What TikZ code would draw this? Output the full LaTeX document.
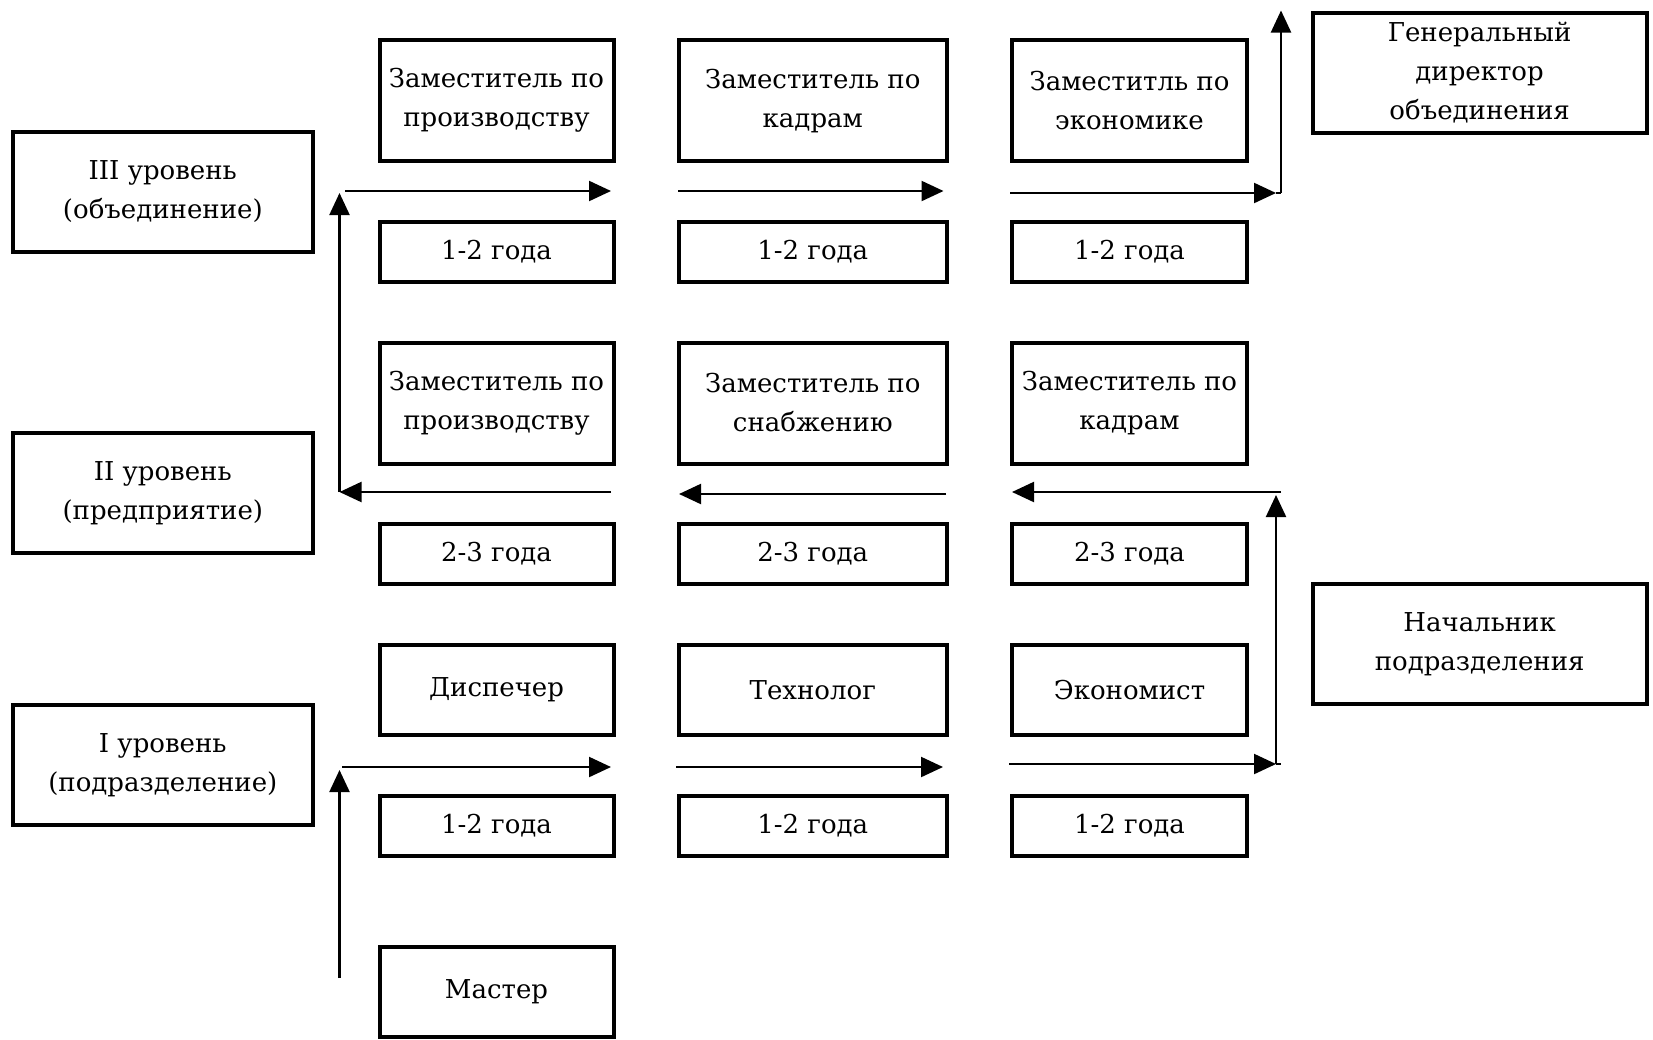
\documentclass[tikz,border=0pt]{standalone}
\usepackage{fontspec}
\setmainfont{DejaVu Serif}
\usetikzlibrary{arrows.meta}
\newfontfamily\boxfontfam{DejaVu Serif}
\tikzset{
  bx/.style={draw, line width=2pt, inner sep=0pt, align=center,
    font=\boxfontfam\fontsize{13}{19.5}\selectfont},
  lvl/.style={bx, minimum width=150.2pt, minimum height=60pt},
  cA/.style={bx, minimum width=117pt},
  cB/.style={bx, minimum width=133.8pt},
  cC/.style={bx, minimum width=117.5pt},
  rt/.style={bx, minimum width=167pt, minimum height=60pt},
  tall/.style={minimum height=60.5pt},
  mid/.style={minimum height=45pt},
  yr/.style={minimum height=30pt},
  arr/.style={line width=1.1pt, -{Triangle[length=11pt,width=10pt]}},
}
\begin{document}
\begin{tikzpicture}[x=0.5pt,y=-0.5pt]
\useasboundingbox (0,0) rectangle (1653,1039);
% level boxes
\node[lvl] (l3) at (162.8,192) {III уровень\\(объединение)};
\node[lvl] (l2) at (162.8,493) {II уровень\\(предприятие)};
\node[lvl] (l1) at (162.8,765) {I уровень\\(подразделение)};
% row III
\node[cA,tall] (a1) at (496.5,100.6) {Заместитель по\\производству};
\node[cB,tall] (b1) at (812.8,100.6) {Заместитель по\\кадрам};
\node[cC,tall] (c1) at (1129.5,100.6) {Заместитль по\\экономике};
\node[cA,yr] (a1y) at (496.5,252) {1-2 года};
\node[cB,yr] (b1y) at (812.8,252) {1-2 года};
\node[cC,yr] (c1y) at (1129.5,252) {1-2 года};
% row II
\node[cA,tall] (a2) at (496.5,403) {Заместитель по\\производству};
\node[cB,tall] (b2) at (812.8,403) {Заместитель по\\снабжению};
\node[cC,tall] (c2) at (1129.5,403) {Заместитель по\\кадрам};
\node[cA,yr] (a2y) at (496.5,554) {2-3 года};
\node[cB,yr] (b2y) at (812.8,554) {2-3 года};
\node[cC,yr] (c2y) at (1129.5,554) {2-3 года};
% row I
\node[cA,mid] (a3) at (496.5,690) {Диспечер};
\node[cB,mid] (b3) at (812.8,690) {Технолог};
\node[cC,mid] (c3) at (1129.5,690) {Экономист};
\node[cA,yr] (a3y) at (496.5,826) {1-2 года};
\node[cB,yr] (b3y) at (812.8,826) {1-2 года};
\node[cC,yr] (c3y) at (1129.5,826) {1-2 года};
\node[cA,mid] (m) at (496.5,992) {Мастер};
% right boxes
\node[rt] (gd) at (1479.6,73) {Генеральный\\директор\\объединения};
\node[rt] (np) at (1479.6,644) {Начальник\\подразделения};
% arrow coordinates
\coordinate (p0) at (339.5,978);
\coordinate (p1) at (339.5,770);
\coordinate (p2s) at (342,767);
\coordinate (p2e) at (611,767);
\coordinate (p3s) at (676,767);
\coordinate (p3e) at (943,767);
\coordinate (p4s) at (1009,764);
\coordinate (p4e) at (1276,764);
\coordinate (p4c) at (1281,764);
\coordinate (p5) at (1276,495);
\coordinate (q1s) at (1281,492);
\coordinate (q1e) at (1012,492);
\coordinate (q2s) at (946,494);
\coordinate (q2e) at (679,494);
\coordinate (q3s) at (611,492);
\coordinate (q3e) at (339.5,492);
\coordinate (q4) at (339.5,193);
\coordinate (r1s) at (345,191);
\coordinate (r1e) at (611,191);
\coordinate (r2s) at (678,191);
\coordinate (r2e) at (943.5,191);
\coordinate (r3s) at (1010,193);
\coordinate (r3e) at (1276,193);
\coordinate (r4s) at (1281,193);
\coordinate (r4e) at (1281,10.5);
% arrows
\draw[arr] (p0) -- (p1);
\draw[arr] (p2s) -- (p2e);
\draw[arr] (p3s) -- (p3e);
\draw[arr] (p4s) -- (p4e);
\draw[line width=1.1pt] (p4e) -- (p4c);
\draw[arr] (p4e) -- (p5);
\draw[arr] (q1s) -- (q1e);
\draw[arr] (q2s) -- (q2e);
\draw[arr] (q3s) -- (q3e);
\draw[arr] (q3e) -- (q4);
\draw[arr] (r1s) -- (r1e);
\draw[arr] (r2s) -- (r2e);
\draw[arr] (r3s) -- (r3e);
\draw[line width=1.1pt] (r3e) -- (r4s);
\draw[arr] (r4s) -- (r4e);
\end{tikzpicture}
\end{document}
